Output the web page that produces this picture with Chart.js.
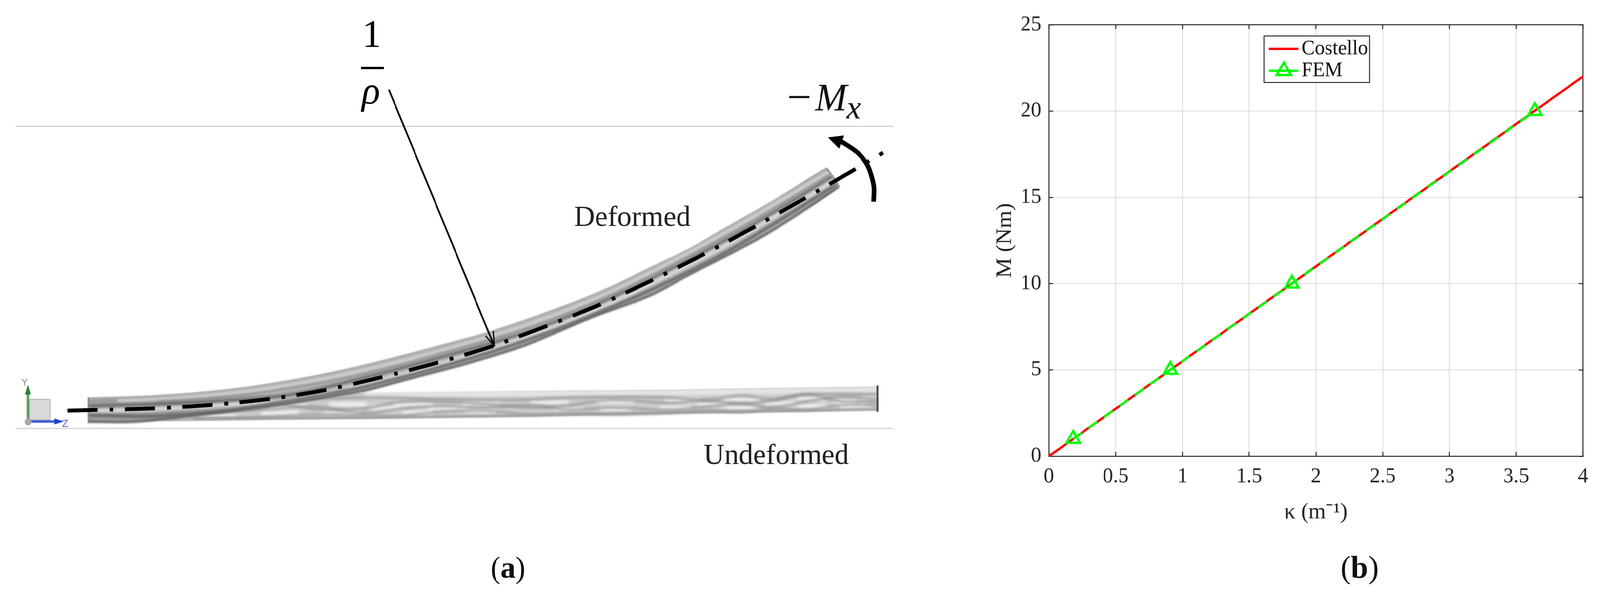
<!DOCTYPE html>
<html>
<head>
<meta charset="utf-8">
<script src="https://cdn.jsdelivr.net/npm/chart.js@4/dist/chart.umd.min.js"></script>
<style>
html,body{margin:0;padding:0;background:#fff;overflow:hidden}
#page{position:absolute;left:0;top:0;width:4175px;height:1517px;transform-origin:0 0}
canvas{position:absolute;top:0}
#panelA{left:0}
#panelB{left:2500px}
</style>
</head>
<body>
<div id="page">
<canvas id="panelA" width="2500" height="1517"></canvas>
<canvas id="panelB" width="1675" height="1517"></canvas>
</div>
<script>
/* the window may be narrower than the 4175 px layout: fit the width */
document.getElementById('page').style.transform = `scaleX(${Math.min(1, window.innerWidth / 4175)})`;

/* ---------- panel (b): chart data ---------- */
const xTicks = [0, 0.5, 1, 1.5, 2, 2.5, 3, 3.5, 4];
const yTicks = [0, 5, 10, 15, 20, 25];
const costelloKappa = [0, 4];
const costelloMoment = [0, 22];
const femKappa = [0.182, 0.91, 1.82, 3.64];
const femMoment = [1, 5, 10, 20];
const seriesNames = ['Costello', 'FEM'];
const axisTitleX = 'κ (m⁻¹)';
const axisTitleY = 'M (Nm)';

/* ---------- panel (a): schematic, in image units ---------- */
const guideTop = [[32,318],[2339,318]];
const guideBottom = [[32,1100],[2338,1100]];
const undefTop = [[223,1020],[950,1009],[1358,1004],[1750,1000],[1980,996],[2295,992]];
const undefBottom = [[223,1083],[558,1080],[950,1075],[1358,1070],[1750,1062],[1941,1060],[2299,1054]];
const undefCap = [[2297,991],[2297,1055]];
const undefBand = [[950,1014],[1358,1010],[1750,1008],[1980,1004],[2295,1000]];
const undefBandEdge = [[400,1036],[950,1020],[1150,1024],[1350,1026],[1500,1020],[1750,1020],[1846,1027],[1941,1015],[2018,1025],[2113,1012],[2295,1012]];
const crossA = [[430,1058],[560,1040],[700,1034],[820,1050],[950,1048],[1040,1032],[1139,1030],[1260,1036],[1394,1046],[1486,1040],[1600,1026],[1750,1034],[1846,1028],[1941,1036],[2018,1028],[2113,1012],[2200,1030],[2295,1030]];
const crossB = [[430,1066],[560,1058],[700,1050],[820,1044],[950,1060],[1040,1050],[1139,1042],[1260,1046],[1394,1040],[1486,1052],[1600,1046],[1750,1052],[1846,1044],[1941,1036],[2018,1046],[2113,1030],[2200,1018],[2295,1024]];
const crossC = [[430,1076],[560,1074],[700,1070],[820,1064],[950,1066],[1040,1068],[1139,1058],[1260,1054],[1394,1064],[1486,1060],[1600,1064],[1750,1060],[1846,1054],[1941,1058],[2018,1050],[2113,1052],[2200,1040],[2295,1040]];
const crossD = [[500,1074],[950,1072],[1358,1067],[1750,1059],[1941,1056],[2297,1050]];
const undefGlints = [[523,1047],[623,1047],null,[697,1043],[797,1043],null,[855,1038],[955,1038],null,[513,1067],[613,1067],null,[677,1060],[777,1060],null,[840,1058],[940,1058],null,
  [1028,1038],[1128,1038],null,[1206,1035],[1306,1035],null,[1385,1032],[1485,1032],null,[1558,1030],[1658,1030],null,[1740,1028],[1830,1028],null,[1891,1025],[1991,1025],null,[2085,1022],[2165,1022],null,[2180,1030],[2240,1030],null,[2255,1020],[2292,1020],null,
  [961,1047],[1041,1047],null,[1119,1047],[1219,1047],null,[1445,1052],[1525,1052],null,[1825,1037],[1905,1037],null,[2000,1035],[2080,1035],null,[2190,1038],[2270,1038],null,
  [1048,1058],[1128,1058],null,[1216,1055],[1296,1055],null,[1568,1050],[1648,1050],null,[1725,1047],[1805,1047],null,[1901,1045],[1981,1045],null,[2085,1043],[2165,1043],null,[2200,1048],[2285,1048]];
const deformedTop = [[223,1022],[405,1015],[568,1002],[747,977],[950,936],[1200,872],[1269,853],[1391,813],[1564,748],[1709,680],[1800,637],[1888,587],[2025,510],[2163,426]];
const deformedEnd = [[2163,426],[2179,447],[2196,474]];
const deformedBottom = [[223,1083],[354,1082],[500,1066],[717,1040],[877,1014],[950,1002],[1072,970],[1200,937],[1303,907],[1384,880],[1544,813],[1697,757],[1800,703],[1982,610],[2081,550],[2196,474]];
const deformedCap = [[223,1021],[223,1084]];
const strandLight = [[300,1028],[405,1024],[568,1012],[747,988],[950,948],[1200,884],[1391,826],[1564,760],[1709,692],[1888,598],[2025,520],[2170,436]];
const strandFaint = [[405,1030],[568,1019],[747,996],[950,958],[1200,892],[1391,836],[1564,768],[1709,701],[1888,608],[2025,531],[2172,442]];
const strandDarkUpper = [[225,1042],[405,1037],[568,1030],[747,1014],[950,968],[1200,902],[1391,846],[1564,777],[1709,710],[1888,618],[2025,541],[2179,447]];
const strandMid = [[225,1055],[405,1050],[568,1040],[747,1026],[950,985],[1200,918],[1391,857],[1564,790],[1709,722],[1888,632],[2025,553],[2185,458]];
const strandDarkLower = [[225,1066],[405,1068],[568,1056],[717,1034],[877,1006],[950,992],[1200,926],[1391,866],[1564,800],[1709,738],[1888,650],[2025,570],[2190,468]];
const centreLine = [[168,1054],[247,1052],[397,1048],[547,1039],[697,1024],[844,1001],[991,968],[1136,931],[1282,888],[1422,837],[1562,782],[1699,719],[1833,653],[1965,583],[2096,510],[2228,435],[2312,386]];
const curvatureLeader = [[1013,223],[1290,887]];
const curvatureHead = [[1267,860],[1290,887],[1287,848]];
const fractionBar = [[940,167],[1000,167]];
const momentArc = [[2287,513],[2288,477],[2281,445],[2270,417],[2246,387],[2210,362],[2190,352]];
const momentHead = [[2168,347],[2209,342],[2196,375],[2168,347]];
const triadCube = [[68,1025],[122,1025],[122,1078],[68,1078],[68,1025]];
const triadY = [[64,1082],[64,1000]];
const triadYHead = [[64,988],[71,1012],[57,1012],[64,988]];
const triadZ = [[64,1082],[145,1082]];
const triadZHead = [[157,1082],[135,1075],[135,1089],[157,1082]];
const triadOrigin = [[65,1083]];

const panelATexts = [
  {text:'1', x:970, y:120, font:'100px "Liberation Serif"', align:'center', color:'#000'},
  {text:'ρ', x:968, y:265, font:'italic 100px "Liberation Serif"', align:'center', color:'#000'},
  {text:'−', x:2054, y:286, font:'113px "Liberation Serif"', align:'left', color:'#111'},
  {text:'M', x:2127, y:282, font:'italic 100px "Liberation Serif"', align:'left', color:'#111'},
  {text:'x', x:2209, y:303, font:'italic 84px "Liberation Serif"', align:'left', color:'#111'},
  {text:'Deformed', x:1498, y:578, font:'75px "Liberation Serif"', align:'left', color:'#222'},
  {text:'Undeformed', x:1836, y:1187, font:'75px "Liberation Serif"', align:'left', color:'#222'},
  {text:'Y', x:64, y:986, font:'24px "Liberation Sans"', align:'center', color:'#8a8a8a'},
  {text:'Z', x:170, y:1092, font:'26px "Liberation Sans"', align:'center', color:'#5a5ac8'},
  {text:'(', x:1280, y:1478, font:'78px "Liberation Serif"', align:'left', color:'#111'},
  {text:'a', x:1306, y:1478, font:'bold 78px "Liberation Serif"', align:'left', color:'#111'},
  {text:')', x:1345, y:1478, font:'78px "Liberation Serif"', align:'left', color:'#111'}
];
const panelBTexts = [
  {text:'(', x:998, y:1478, font:'80px "Liberation Serif"', align:'left', color:'#111'},
  {text:'b', x:1025, y:1478, font:'bold 80px "Liberation Serif"', align:'left', color:'#111'},
  {text:')', x:1071, y:1478, font:'80px "Liberation Serif"', align:'left', color:'#111'}
];

/* ---------- helpers ---------- */
const INK = '#262626';
const SERIF = '"Liberation Serif"';
const pts = a => a.map(p => p ? {x:p[0], y:p[1]} : {x:null, y:null});
const zip = (xs, ys) => xs.map((x, i) => ({x, y:ys[i]}));

const textPlugin = {
  id: 'panelText',
  afterDraw(chart, args, opts) {
    const {ctx} = chart;
    ctx.save();
    ctx.textBaseline = 'alphabetic';
    for (const t of opts.items || []) {
      ctx.font = t.font;
      ctx.fillStyle = t.color;
      ctx.textAlign = t.align;
      ctx.fillText(t.text, t.x, t.y);
    }
    ctx.restore();
  }
};
const blurPlugin = {
  id: 'softStroke',
  beforeDatasetDraw(chart, args) {
    const b = chart.data.datasets[args.index].soft;
    if (b) { chart.ctx.save(); chart.ctx.filter = `blur(${b}px)`; }
  },
  afterDatasetDraw(chart, args) {
    if (chart.data.datasets[args.index].soft) chart.ctx.restore();
  }
};

/* ---------- panel (a) ---------- */
const layers = [
  {data:guideTop, borderColor:'#cbcbcb', borderWidth:2.5},
  {data:guideBottom, borderColor:'#cbcbcb', borderWidth:2.5},
  {data:undefTop.concat(undefBottom.slice().reverse()), borderColor:'#d6d6d6', borderWidth:1, fill:'shape', backgroundColor:'#cdcdcd'},
  {data:undefBand, borderColor:'#e4e4e4', borderWidth:14, soft:3},
  {data:undefGlints, borderColor:'#f4f4f4', borderWidth:10, soft:4},
  {data:undefBandEdge, borderColor:'#949494', borderWidth:5, soft:3, tension:0.4},
  {data:crossA, borderColor:'#939393', borderWidth:5, soft:3, tension:0.4},
  {data:crossB, borderColor:'#939393', borderWidth:5, soft:3, tension:0.4},
  {data:crossC, borderColor:'#979797', borderWidth:5, soft:3, tension:0.4},
  {data:crossD, borderColor:'#9a9a9a', borderWidth:6, soft:2.5},
  {data:undefCap, borderColor:'#4c4c4c', borderWidth:5},
  {data:deformedTop.concat(deformedEnd.slice(1), deformedBottom.slice().reverse().slice(1)), borderColor:'rgba(0,0,0,0)', borderWidth:0, fill:'shape', backgroundColor:'rgba(135,135,135,0.68)', tension:0.25},
  {data:strandLight, borderColor:'#d2d2d2', borderWidth:8, soft:3, tension:0.4},
  {data:strandFaint, borderColor:'#8c8c8c', borderWidth:3, soft:2, tension:0.4},
  {data:strandDarkUpper, borderColor:'#5e5e5e', borderWidth:6, soft:3, tension:0.4},
  {data:strandMid, borderColor:'#d8d8d8', borderWidth:11, soft:3, tension:0.4},
  {data:strandDarkLower, borderColor:'#5e5e5e', borderWidth:7, soft:3, tension:0.4},
  {data:deformedTop, borderColor:'#b0b0b0', borderWidth:4, soft:1.5, tension:0.4},
  {data:deformedBottom, borderColor:'#666666', borderWidth:6, soft:2, tension:0.4},
  {data:deformedEnd, borderColor:'#9a9a9a', borderWidth:5},
  {data:deformedCap, borderColor:'#8a8a8a', borderWidth:4},
  {data:centreLine, borderColor:'#000', borderWidth:10, borderDash:[79,31,10,30], tension:0.3},
  {data:curvatureLeader, borderColor:'#000', borderWidth:4.5},
  {data:curvatureHead, borderColor:'#111', borderWidth:3.5},
  {data:fractionBar, borderColor:'#000', borderWidth:6},
  {data:momentArc, borderColor:'#000', borderWidth:12, tension:0.3},
  {data:momentHead, borderColor:'#000', borderWidth:1, fill:'shape', backgroundColor:'#000'},
  {data:triadCube, borderColor:'#bdbdbd', borderWidth:3, fill:'shape', backgroundColor:'#d9d9d9'},
  {data:triadY, borderColor:'#4f9250', borderWidth:6, soft:0.8},
  {data:triadYHead, borderColor:'#2f7f33', borderWidth:1, fill:'shape', backgroundColor:'#2f7f33'},
  {data:triadZ, borderColor:'#2a4fd6', borderWidth:6, soft:0.8},
  {data:triadZHead, borderColor:'#2244cc', borderWidth:1, fill:'shape', backgroundColor:'#2244cc'},
  {data:triadOrigin, pointRadius:9, pointBackgroundColor:'#a8a8a8', pointBorderWidth:0, showLine:false}
];
new Chart(document.getElementById('panelA'), {
  type: 'scatter',
  data: {datasets: layers.map((l, i) => Object.assign({
    showLine:true, pointRadius:0, fill:false, tension:0, borderCapStyle:'butt', borderJoinStyle:'round',
    order:layers.length - i
  }, l, {data:pts(l.data)}))},
  options: {
    responsive:false, animation:false, devicePixelRatio:1,
    layout:{padding:0},
    plugins:{legend:{display:false}, tooltip:{enabled:false}, panelText:{items:panelATexts}},
    scales:{
      x:{display:false, type:'linear', min:0, max:2500},
      y:{display:false, type:'linear', min:0, max:1517, reverse:true}
    }
  },
  plugins:[blurPlugin, textPlugin]
});

/* ---------- panel (b) ---------- */
function legendSwatch(color, marker) {
  const c = document.createElement('canvas');
  c.width = 80; c.height = 64;
  const g = c.getContext('2d');
  g.strokeStyle = color; g.lineWidth = 6;
  g.beginPath(); g.moveTo(1, 32); g.lineTo(78, 32); g.stroke();
  if (marker) {
    g.lineJoin = 'miter';
    g.beginPath(); g.moveTo(40, 11); g.lineTo(59, 43); g.lineTo(21, 43); g.closePath(); g.stroke();
  }
  return c;
}
const swatches = [legendSwatch('#ff0000', false), legendSwatch('#00ff00', true)];

const legendFrame = {
  id: 'legendFrame',
  afterLayout(chart) {
    const l = chart.legend;
    l.left = 826; l.right = 1074; l.top = 95; l.bottom = 400;
    l.width = l.right - l.left; l.height = l.bottom - l.top;
    l.draw = function () {
      const c = this.ctx;
      c.save();
      c.fillStyle = '#fff'; c.strokeStyle = INK; c.lineWidth = 2.5;
      c.fillRect(798, 92, 276, 119); c.strokeRect(798, 92, 276, 119);
      c.restore();
      this._draw();
    };
  }
};

new Chart(document.getElementById('panelB'), {
  type: 'scatter',
  data: {datasets: [
    {label:seriesNames[0], data:zip(costelloKappa, costelloMoment), showLine:true, borderColor:'#ff0000', borderWidth:6, pointRadius:0, clip:false, order:2},
    {label:seriesNames[1], data:zip(femKappa, femMoment), showLine:true, borderColor:'#00ff00', borderWidth:6, borderDash:[28,21],
     pointStyle:'triangle', pointRadius:20, pointBorderColor:'#00ff00', pointBackgroundColor:'rgba(0,0,0,0)', pointBorderWidth:6, clip:false, order:1}
  ]},
  options: {
    responsive:false, animation:false, devicePixelRatio:1,
    layout:{padding:0},
    plugins:{
      tooltip:{enabled:false},
      panelText:{items:panelBTexts},
      legend:{
        position:'chartArea', align:'start',
        labels:{
          usePointStyle:true, pointStyleWidth:40, padding:4, color:'#111',
          font:{family:SERIF, size:52},
          generateLabels: ch => ch.data.datasets.map((d, i) => ({
            text:d.label, pointStyle:swatches[i], datasetIndex:i, hidden:false, lineWidth:0, fontColor:'#111'
          }))
        }
      }
    },
    scales:{
      x:{
        type:'linear', position:'bottom', min:0, max:4,
        afterBuildTicks: s => { s.ticks = xTicks.map(value => ({value})); },
        afterFit: s => { s.height = 350; },
        grid:{color:'#e0e0e0', lineWidth:2.5, tickLength:-11, tickColor:INK, tickWidth:2.5},
        border:{color:INK, width:2.5},
        ticks:{color:INK, font:{family:SERIF, size:54}, padding:31, maxRotation:0, autoSkip:false, callback:v => String(v)},
        title:{display:true, text:axisTitleX, color:INK, font:{family:SERIF, size:58}, padding:{top:0, bottom:171}}
      },
      y:{
        type:'linear', position:'left', min:0, max:25,
        afterBuildTicks: s => { s.ticks = yTicks.map(value => ({value})); },
        afterFit: s => { s.width = 237; },
        grid:{color:'#e0e0e0', lineWidth:2.5, tickLength:-11, tickColor:INK, tickWidth:2.5},
        border:{color:INK, width:2.5},
        ticks:{color:INK, font:{family:SERIF, size:54}, padding:31, autoSkip:false, callback:v => String(v)},
        title:{display:true, text:axisTitleY, color:INK, font:{family:SERIF, size:58}, padding:{top:88, bottom:0}}
      },
      xFrame:{
        type:'linear', position:'top', min:0, max:4,
        afterBuildTicks: s => { s.ticks = xTicks.map(value => ({value})); },
        afterFit: s => { s.height = 58; },
        grid:{drawOnChartArea:false, tickLength:-11, tickColor:INK, tickWidth:2.5},
        border:{color:INK, width:2.5},
        ticks:{display:false}
      },
      yFrame:{
        type:'linear', position:'right', min:0, max:25,
        afterBuildTicks: s => { s.ticks = yTicks.map(value => ({value})); },
        afterFit: s => { s.width = 40; },
        grid:{drawOnChartArea:false, tickLength:-11, tickColor:INK, tickWidth:2.5},
        border:{color:INK, width:2.5},
        ticks:{display:false}
      }
    }
  },
  plugins:[legendFrame, textPlugin]
});
</script>
</body>
</html>
